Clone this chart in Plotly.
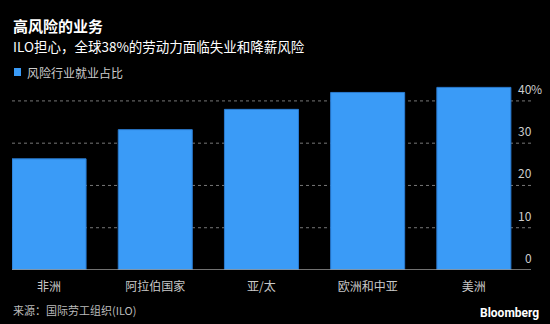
import plotly.graph_objects as go

categories = ["非洲", "阿拉伯国家", "亚/太", "欧洲和中亚", "美洲"]
values = [26.3, 33.2, 38.0, 42.0, 43.2]
tick_vals = [0, 10, 20, 30, 40]
tick_text = ["0", "10", "20", "30", "40"]

FONT = "Noto Sans CJK SC, Noto Sans, sans-serif"
BAR = "#3a9bf7"

W, H = 550, 324
L, R, T, B = 12, 19, 84, 54
ymax = 44.0


def px_x(x):
    return (x - L) / (W - L - R)


def px_y(y):
    return (H - B - y) / (H - T - B)


fig = go.Figure()
fig.add_trace(go.Bar(
    x=list(range(len(categories))), y=values,
    marker=dict(color=BAR, line=dict(color="#2a7bd0", width=1)),
    width=0.697, showlegend=False, hoverinfo="skip",
))

fig.update_layout(
    width=W, height=H,
    margin=dict(l=L, r=R, t=T, b=B, pad=0),
    paper_bgcolor="#000000", plot_bgcolor="#000000",
    font=dict(family=FONT, color="#cccccc", size=12),
    xaxis=dict(range=[-0.349, 4.538], tickmode="array",
               tickvals=list(range(len(categories))), ticktext=categories,
               showgrid=False, zeroline=False, showline=False,
               ticks="", tickfont=dict(size=12, color="#c8c8c8"), ticklabelstandoff=8),
    yaxis=dict(range=[0, ymax], showticklabels=False, showgrid=False,
               zeroline=False, showline=False, ticks=""),
)

# dotted gridlines extending under the right-side labels
for v in tick_vals[1:]:
    fig.add_shape(type="line", xref="paper", yref="y", x0=0, x1=1, y0=v, y1=v,
                  line=dict(color="#777777", width=1, dash="dot"), layer="below")
# baseline
fig.add_shape(type="line", xref="paper", yref="y", x0=0, x1=1, y0=0, y1=0,
              line=dict(color="#999999", width=1.5), layer="above")

# y tick labels, right aligned, above gridlines
for v, t in zip(tick_vals, tick_text):
    fig.add_annotation(xref="paper", yref="y", x=1.0, y=v, text=t, showarrow=False,
                       xanchor="right", yanchor="bottom", yshift=2, xshift=3,
                       font=dict(size=12, color="#cccccc", family=FONT))
fig.add_annotation(xref="paper", yref="y", x=1.0, y=40, text="%", showarrow=False,
                   xanchor="left", yanchor="bottom", yshift=2, xshift=-2,
                   font=dict(size=12, color="#cccccc", family=FONT))

anns = [
    dict(x=12, y=25.5, text="<b>高风险的业务</b>", size=15, color="#ffffff"),
    dict(x=12, y=46.5, text="ILO担心，全球38%的劳动力面临失业和降薪风险", size=13.5, color="#ffffff"),
    dict(x=26, y=72, text="风险行业就业占比", size=12, color="#cccccc"),
    dict(x=12, y=310, text="来源：国际劳工组织(ILO)", size=11, color="#bbbbbb"),
]
for a in anns:
    fig.add_annotation(xref="paper", yref="paper", x=px_x(a["x"]), y=px_y(a["y"]),
                       xanchor="left", yanchor="middle", text=a["text"], showarrow=False,
                       borderpad=0,
                       font=dict(size=a["size"], color=a["color"], family=FONT))
fig.add_annotation(xref="paper", yref="paper", x=px_x(540), y=px_y(313), xanchor="right",
                   yanchor="middle", text="<b>Bloomberg</b>", showarrow=False, borderpad=0,
                   font=dict(size=12, color="#ffffff", family="Roboto, Arial, sans-serif"))

# legend square
fig.add_shape(type="rect", xref="paper", yref="paper",
              x0=px_x(14), x1=px_x(21), y0=px_y(68), y1=px_y(76),
              fillcolor=BAR, line=dict(width=0))

fig.write_html("out.html")
